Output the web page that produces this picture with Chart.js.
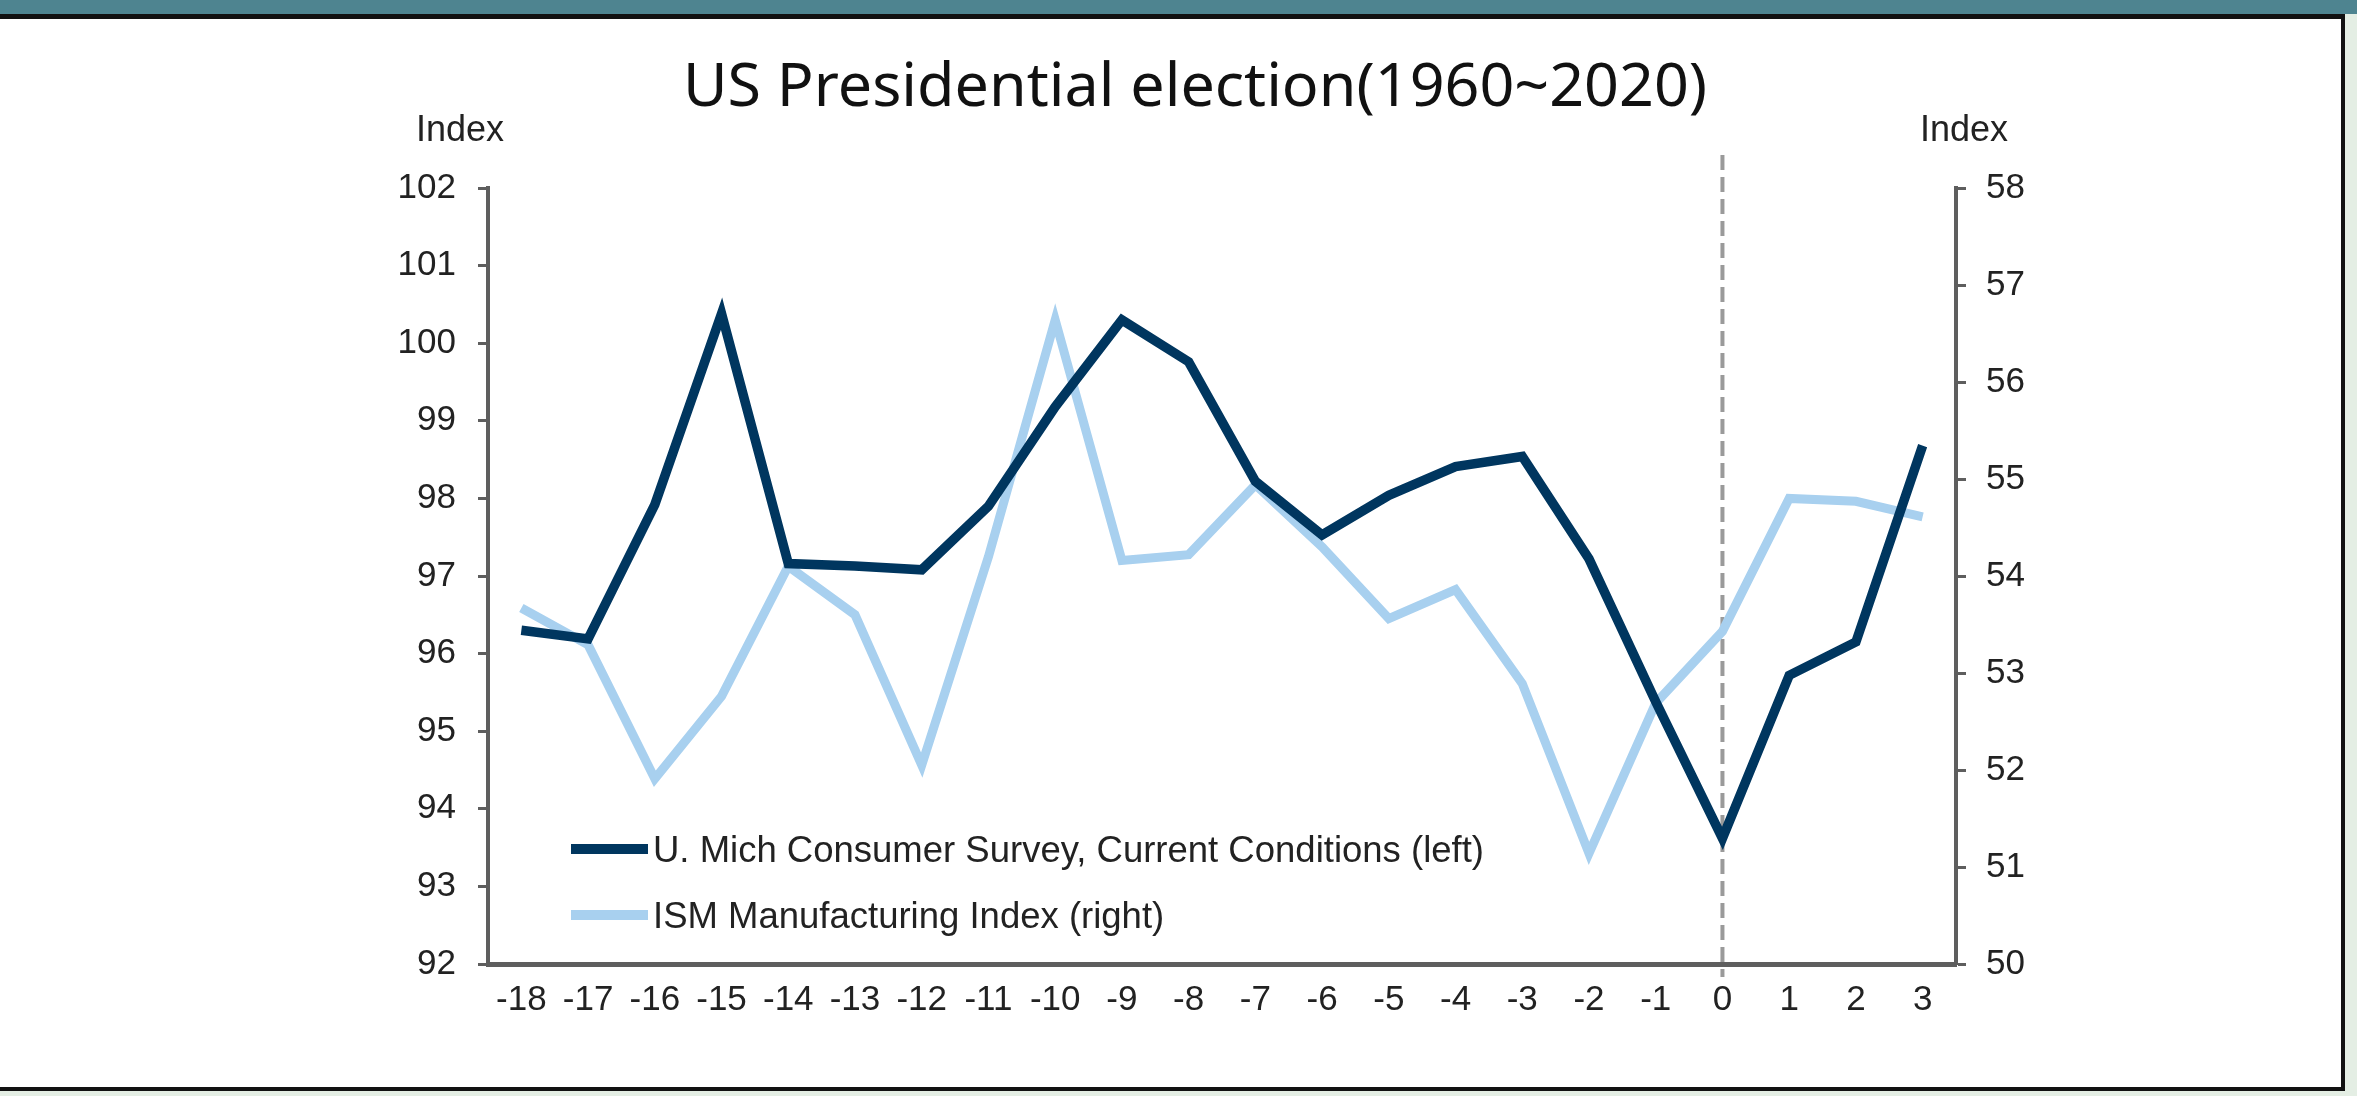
<!DOCTYPE html>
<html>
<head>
<meta charset="utf-8">
<title>US Presidential election(1960~2020)</title>
<script src="https://cdn.jsdelivr.net/npm/chart.js@4.4.1/dist/chart.umd.min.js"></script>
<style>
  html, body { margin: 0; padding: 0; }
  body { width: 2357px; height: 1096px; position: relative; overflow: hidden; background: #e4eee4; }
  .sheet { position: absolute; left: 0; top: 0; width: 2341px; height: 1087px; background: #fff; }
  .sheet canvas { display: block; }
  .band { position: absolute; left: 0; top: 0; width: 2357px; height: 14px; background: #4e8490; }
  .rule-top { position: absolute; left: 0; top: 14px; width: 2345px; height: 5px; background: #111; }
  .rule-right { position: absolute; left: 2341px; top: 14px; width: 4px; height: 1077px; background: #111; }
  .rule-bottom { position: absolute; left: 0; top: 1087px; width: 2345px; height: 4px; background: #111; }
</style>
</head>
<body>
<div class="sheet"><canvas id="chart" width="2341" height="1087"></canvas></div>
<div class="band"></div>
<div class="rule-top"></div>
<div class="rule-right"></div>
<div class="rule-bottom"></div>
<script>
// years relative to the election year (0)
const categories = ['-18', '-17', '-16', '-15', '-14', '-13', '-12', '-11', '-10', '-9', '-8',
  '-7', '-6', '-5', '-4', '-3', '-2', '-1', '0', '1', '2', '3'];

const umichCurrent = [96.3, 96.19, 97.92, 100.38, 97.16, 97.13, 97.08, 97.9, 99.18, 100.3, 99.76,
  98.22, 97.53, 98.04, 98.41, 98.54, 97.22, 95.38, 93.62, 95.72, 96.15, 98.68];

const ismIndex = [53.67, 53.29, 51.91, 52.76, 54.1, 53.6, 52.05, 54.2, 56.64, 54.16, 54.22,
  54.94, 54.3, 53.56, 53.86, 52.89, 51.14, 52.69, 53.43, 54.8, 54.77, 54.61];

const leftTicks = [92, 93, 94, 95, 96, 97, 98, 99, 100, 101, 102];
const rightTicks = [50, 51, 52, 53, 54, 55, 56, 57, 58];

const seriesLabels = ['U. Mich Consumer Survey, Current Conditions (left)', 'ISM Manufacturing Index (right)'];
const chartTitle = 'US Presidential election(1960~2020)';
const axisUnit = 'Index';
const markerYear = '0';

const SANS = '"Liberation Sans", Arial, sans-serif';
const NAVY = '#00365f';
const SKY = '#a8d0ef';
const AXIS = '#5e5e5e';
const INK = '#222';

// title, "Index" captions, the dashed election-year marker and the in-plot legend
const decorations = {
  id: 'decorations',
  beforeDatasetsDraw(chart) {
    const { ctx, chartArea } = chart;
    const x = chart.scales.x.getPixelForValue(categories.indexOf(markerYear));
    ctx.save();
    ctx.strokeStyle = '#9a9a9a';
    ctx.lineWidth = 4;
    ctx.setLineDash([15, 7]);
    ctx.beginPath();
    ctx.moveTo(x, chartArea.top - 33);
    ctx.lineTo(x, chartArea.bottom + 13);
    ctx.stroke();
    ctx.restore();
  },
  afterDraw(chart) {
    const { ctx, chartArea } = chart;
    ctx.save();
    ctx.fillStyle = '#111';
    ctx.textAlign = 'center';
    ctx.textBaseline = 'alphabetic';
    ctx.font = '61px "Noto Sans", sans-serif';
    ctx.fillText(chartTitle, 1195, 106);

    ctx.fillStyle = INK;
    ctx.font = '36px ' + SANS;
    ctx.fillText(axisUnit, chartArea.left - 28, chartArea.top - 47);
    ctx.fillText(axisUnit, chartArea.right + 8, chartArea.top - 47);

    // legend
    ctx.textAlign = 'left';
    ctx.font = '36.5px ' + SANS;
    const rows = [chartArea.bottom - 102, chartArea.bottom - 36];
    chart.data.datasets.forEach((ds, i) => {
      const base = rows[i];
      ctx.strokeStyle = ds.borderColor;
      ctx.lineWidth = 10;
      ctx.lineCap = 'butt';
      ctx.beginPath();
      ctx.moveTo(chartArea.left + 83, base - 13);
      ctx.lineTo(chartArea.left + 160, base - 13);
      ctx.stroke();
      ctx.fillStyle = INK;
      ctx.fillText(ds.label, chartArea.left + 165, base);
    });
    ctx.restore();
  }
};

const tickFont = { family: SANS, size: 35 };

new Chart(document.getElementById('chart'), {
  type: 'line',
  data: {
    labels: categories,
    datasets: [
      {
        label: seriesLabels[0],
        data: umichCurrent,
        yAxisID: 'y',
        borderColor: NAVY,
        borderWidth: 9.5,
        borderJoinStyle: 'miter',
        tension: 0,
        pointRadius: 0
      },
      {
        label: seriesLabels[1],
        data: ismIndex,
        yAxisID: 'y1',
        borderColor: SKY,
        borderWidth: 9,
        borderJoinStyle: 'miter',
        tension: 0,
        pointRadius: 0
      }
    ]
  },
  options: {
    responsive: false,
    animation: false,
    devicePixelRatio: 1,
    layout: { padding: { top: 188, left: 0, right: 0, bottom: 0 } },
    plugins: {
      legend: { display: false },
      title: { display: false },
      tooltip: { enabled: false }
    },
    scales: {
      x: {
        offset: true,
        grid: { display: false, drawTicks: false },
        border: { display: true, color: AXIS, width: 5 },
        ticks: { color: INK, font: tickFont, padding: 15, maxRotation: 0, autoSkip: false },
        afterFit(scale) { scale.height = 1087 - 964; }
      },
      y: {
        position: 'left',
        min: 92,
        max: 102,
        afterBuildTicks(scale) { scale.ticks = leftTicks.map((v) => ({ value: v })); },
        grid: { drawOnChartArea: false, tickLength: 10, tickWidth: 3, tickColor: AXIS },
        border: { color: AXIS, width: 4 },
        ticks: { color: INK, font: tickFont, padding: 22 },
        afterFit(scale) { scale.width = 488; }
      },
      y1: {
        position: 'right',
        min: 50,
        max: 58,
        afterBuildTicks(scale) { scale.ticks = rightTicks.map((v) => ({ value: v })); },
        grid: { drawOnChartArea: false, tickLength: 10, tickWidth: 3, tickColor: AXIS },
        border: { color: AXIS, width: 4 },
        ticks: { color: INK, font: tickFont, padding: 20 },
        afterFit(scale) { scale.width = 2341 - 1956; }
      }
    }
  },
  plugins: [decorations]
});
</script>
</body>
</html>
